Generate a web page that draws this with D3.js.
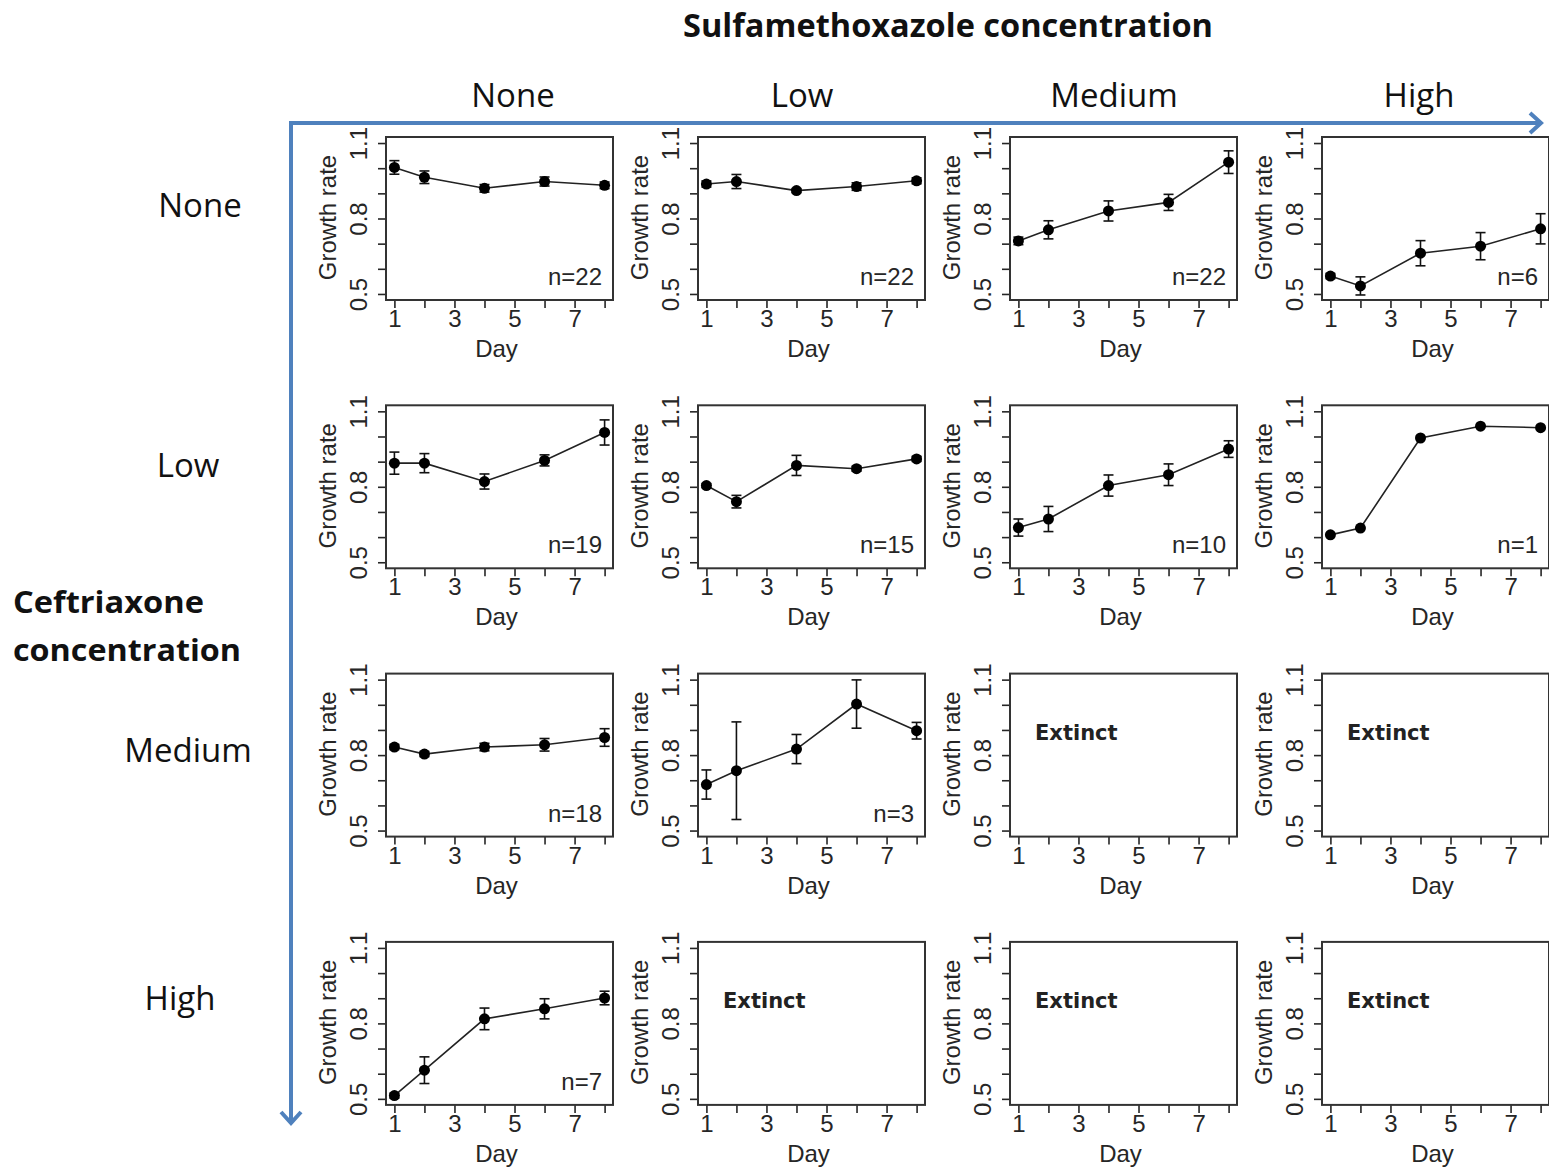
<!DOCTYPE html>
<html>
<head>
<meta charset="utf-8">
<script src="https://cdn.jsdelivr.net/npm/d3@7"></script>
<style>
  body { margin: 0; background: #fff; }
  svg { display: block; }
</style>
</head>
<body>
<div id="chart"></div>
<script>
// Sampling days and factor levels
var days = [1, 2, 4, 6, 8]
var sulfaLevels = ["None", "Low", "Medium", "High"]
var ceftLevels = ["None", "Low", "Medium", "High"]

var xTicks = [1, 2, 3, 4, 5, 6, 7, 8]
var xLabels = [1, 3, 5, 7]
var yTicks = [0.5, 0.6, 0.7, 0.8, 0.9, 1.0, 1.1]
var yLabels = [0.5, 0.8, 1.1]

// Mean growth rate per panel, row = ceftriaxone, column = sulfamethoxazole (null = extinct)
var growthMeans = [
  [[1.003, 0.964, 0.920, 0.947, 0.932], [0.937, 0.947, 0.911, 0.927, 0.950],
   [0.711, 0.755, 0.830, 0.864, 1.024], [0.571, 0.532, 0.662, 0.690, 0.759]],
  [[0.894, 0.894, 0.821, 0.905, 1.016], [0.805, 0.741, 0.885, 0.872, 0.911],
   [0.638, 0.672, 0.805, 0.848, 0.950], [0.609, 0.636, 0.994, 1.041, 1.035]],
  [[0.832, 0.804, 0.832, 0.841, 0.870], [0.683, 0.738, 0.824, 1.003, 0.897],
   null, null],
  [[0.513, 0.614, 0.818, 0.858, 0.901], null, null, null]
]

// Standard error per point
var growthErr = [
  [[0.027, 0.025, 0.015, 0.018, 0.013], [0.012, 0.028, 0.008, 0.015, 0.012],
   [0.015, 0.036, 0.040, 0.032, 0.045], [0.010, 0.036, 0.050, 0.054, 0.060]],
  [[0.044, 0.038, 0.030, 0.022, 0.050], [0.008, 0.025, 0.040, 0.010, 0.010],
   [0.034, 0.050, 0.042, 0.043, 0.033], [0, 0, 0, 0, 0]],
  [[0.010, 0.010, 0.015, 0.025, 0.035], [0.058, 0.194, 0.058, 0.096, 0.033],
   null, null],
  [[0.010, 0.053, 0.043, 0.040, 0.027], null, null, null]
]

var nCounts = [
  [22, 22, 22, 6],
  [19, 15, 10, 1],
  [18, 3, null, null],
  [7, null, null, null]
]

var width = 1549, height = 1176
var panelW = 227, panelH = 163
var panelLeft = 386, panelTop = 137
var stepX = 312, stepY = 268.3
var blue = "#4f81bd"
var ink = "#262626"
var rFont = "'Liberation Sans', Arial, sans-serif"
var hFont = "'Open Sans', 'Noto Sans', sans-serif"

var svg = d3.select("#chart").append("svg")
  .attr("width", width)
  .attr("height", height)

var x = d3.scaleLinear().domain([0.72, 8.28]).range([0, panelW])
var y = d3.scaleLinear().domain([0.476, 1.124]).range([panelH, 0])

var xAxis = d3.axisBottom(x).tickValues(xTicks).tickSize(8).tickSizeOuter(0).tickPadding(2)
  .tickFormat(function(d) { return xLabels.indexOf(d) >= 0 ? d : "" })
var yAxis = d3.axisLeft(y).tickValues(yTicks).tickSize(8).tickSizeOuter(0)
  .tickFormat(function(d) { return yLabels.indexOf(+d.toFixed(1)) >= 0 ? d.toFixed(1) : "" })

// Title and level headers
svg.append("text")
  .attr("x", 948).attr("y", 37)
  .attr("text-anchor", "middle")
  .attr("textLength", 530).attr("lengthAdjust", "spacingAndGlyphs")
  .style("font-family", hFont).style("font-weight", "bold").style("font-size", "32px")
  .style("fill", "#111")
  .text("Sulfamethoxazole concentration")

var colHeadX = [513, 802, 1114, 1419]
svg.selectAll("text.colhead").data(sulfaLevels).enter().append("text")
  .attr("class", "colhead")
  .attr("x", function(d, i) { return colHeadX[i] })
  .attr("y", 107)
  .attr("text-anchor", "middle")
  .style("font-family", hFont).style("font-size", "33px").style("fill", "#111")
  .text(function(d) { return d })

var rowHeadX = [200, 188, 188, 180]
var rowHeadY = [217, 477, 762, 1010]
svg.selectAll("text.rowhead").data(ceftLevels).enter().append("text")
  .attr("class", "rowhead")
  .attr("x", function(d, i) { return rowHeadX[i] })
  .attr("y", function(d, i) { return rowHeadY[i] })
  .attr("text-anchor", "middle")
  .style("font-family", hFont).style("font-size", "33px").style("fill", "#111")
  .text(function(d) { return d })

svg.append("text")
  .attr("x", 13).attr("y", 613)
  .attr("textLength", 191).attr("lengthAdjust", "spacingAndGlyphs")
  .style("font-family", hFont).style("font-weight", "bold").style("font-size", "31px")
  .style("fill", "#111")
  .text("Ceftriaxone")
svg.append("text")
  .attr("x", 13).attr("y", 661)
  .attr("textLength", 228).attr("lengthAdjust", "spacingAndGlyphs")
  .style("font-family", hFont).style("font-weight", "bold").style("font-size", "31px")
  .style("fill", "#111")
  .text("concentration")

// Blue arrows
var arrows = svg.append("g")
  .style("fill", "none").style("stroke", blue).style("stroke-width", 4)
arrows.append("line").attr("x1", 289).attr("y1", 123).attr("x2", 1540).attr("y2", 123)
arrows.append("polyline").attr("points", "1530,113 1541,123 1530,133")
arrows.append("line").attr("x1", 291).attr("y1", 121).attr("x2", 291).attr("y2", 1122)
arrows.append("polyline").attr("points", "281,1112 291,1123 301,1112")

// Panels
ceftLevels.forEach(function(ceft, row) {
  sulfaLevels.forEach(function(sulfa, col) {
    var g = svg.append("g")
      .attr("transform", "translate(" + (panelLeft + col * stepX) + "," + (panelTop + row * stepY) + ")")

    g.append("g")
      .attr("transform", "translate(0," + panelH + ")")
      .call(xAxis)
      .call(function(a) {
        a.select(".domain").remove()
        a.selectAll("line").style("stroke", ink).style("stroke-width", 1.6)
        a.selectAll("text").style("font-family", rFont).style("font-size", "24px").style("fill", ink)
      })

    g.append("g")
      .call(yAxis)
      .call(function(a) {
        a.select(".domain").remove()
        a.selectAll("line").style("stroke", ink).style("stroke-width", 1.6)
        a.selectAll("text")
          .attr("x", 0).attr("y", 0).attr("dy", 0)
          .attr("transform", "translate(-19,0) rotate(-90)")
          .style("text-anchor", "middle")
          .style("font-family", rFont).style("font-size", "24px").style("fill", ink)
      })

    g.append("text")
      .attr("transform", "translate(-50," + (panelH / 2 - 1) + ") rotate(-90)")
      .attr("text-anchor", "middle")
      .style("font-family", rFont).style("font-size", "24px").style("fill", ink)
      .text("Growth rate")

    g.append("text")
      .attr("x", panelW / 2 - 3).attr("y", panelH + 57)
      .attr("text-anchor", "middle")
      .style("font-family", rFont).style("font-size", "24px").style("fill", ink)
      .text("Day")

    g.append("rect")
      .attr("width", panelW).attr("height", panelH)
      .style("fill", "none").style("stroke", "#333").style("stroke-width", 2)

    var means = growthMeans[row][col]
    if (!means) {
      g.append("text")
        .attr("x", 25).attr("y", 66)
        .style("font-family", "'DejaVu Sans', Verdana, sans-serif").style("font-weight", "bold")
        .style("font-size", "21px").style("fill", "#222")
        .text("Extinct")
      return
    }
    var errs = growthErr[row][col]
    var pts = days.map(function(d, i) { return { day: d, mean: means[i], err: errs[i] } })

    g.append("path")
      .datum(pts)
      .attr("d", d3.line().x(function(d) { return x(d.day) }).y(function(d) { return y(d.mean) }))
      .style("fill", "none").style("stroke", "#222").style("stroke-width", 1.6)

    var bars = g.selectAll("g.err").data(pts.filter(function(d) { return d.err > 0 })).enter()
      .append("g").attr("class", "err")
      .style("stroke", "#111").style("stroke-width", 1.6)
    bars.append("line")
      .attr("x1", function(d) { return x(d.day) }).attr("x2", function(d) { return x(d.day) })
      .attr("y1", function(d) { return y(d.mean - d.err) }).attr("y2", function(d) { return y(d.mean + d.err) })
    bars.append("line")
      .attr("x1", function(d) { return x(d.day) - 5 }).attr("x2", function(d) { return x(d.day) + 5 })
      .attr("y1", function(d) { return y(d.mean - d.err) }).attr("y2", function(d) { return y(d.mean - d.err) })
    bars.append("line")
      .attr("x1", function(d) { return x(d.day) - 5 }).attr("x2", function(d) { return x(d.day) + 5 })
      .attr("y1", function(d) { return y(d.mean + d.err) }).attr("y2", function(d) { return y(d.mean + d.err) })

    g.selectAll("circle").data(pts).enter().append("circle")
      .attr("cx", function(d) { return x(d.day) })
      .attr("cy", function(d) { return y(d.mean) })
      .attr("r", 5.5)
      .style("fill", "#000")

    g.append("text")
      .attr("x", panelW - 11).attr("y", panelH - 15)
      .attr("text-anchor", "end")
      .style("font-family", rFont).style("font-size", "24px").style("fill", ink)
      .text("n=" + nCounts[row][col])
  })
})
</script>
</body>
</html>
